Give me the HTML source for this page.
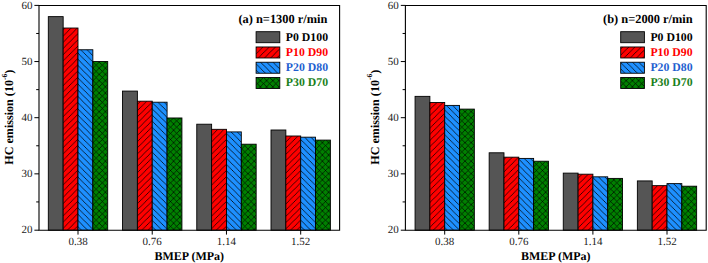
<!DOCTYPE html><html><head><meta charset="utf-8"><style>
html,body{margin:0;padding:0;background:#fff;width:708px;height:263px;overflow:hidden}
svg{display:block}text{font-family:"Liberation Serif",serif;text-rendering:geometricPrecision}
</style></head><body>
<svg width="708" height="263" viewBox="0 0 708 263">
<defs>
<pattern id="hr" patternUnits="userSpaceOnUse" width="6.2" height="6.2"><rect width="6.2" height="6.2" fill="#ff0000"/><path d="M-1 1L1 -1M0 6.2L6.2 0M5.2 7.2L7.2 5.2" stroke="#000" stroke-width="0.75"/></pattern>
<pattern id="hb" patternUnits="userSpaceOnUse" width="6.2" height="6.2"><rect width="6.2" height="6.2" fill="#1e90ff"/><path d="M-1 5.2L1 7.2M0 0L6.2 6.2M5.2 -1L7.2 1" stroke="#000" stroke-width="0.75"/></pattern>
<pattern id="hg" patternUnits="userSpaceOnUse" width="6.2" height="6.2"><rect width="6.2" height="6.2" fill="#008000"/><path d="M-1 1L1 -1M0 6.2L6.2 0M5.2 7.2L7.2 5.2M-1 5.2L1 7.2M0 0L6.2 6.2M5.2 -1L7.2 1" stroke="#000" stroke-width="0.65"/></pattern>
</defs>
<rect width="708" height="263" fill="#fff"/>
<rect x="48.31" y="16.63" width="14.85" height="213.57" fill="#555555" stroke="#000" stroke-width="0.9"/>
<rect x="63.15" y="28.03" width="14.85" height="202.17" fill="url(#hr)" stroke="#000" stroke-width="0.9"/>
<rect x="78.00" y="49.76" width="14.85" height="180.44" fill="url(#hb)" stroke="#000" stroke-width="0.9"/>
<rect x="92.85" y="61.55" width="14.85" height="168.65" fill="url(#hg)" stroke="#000" stroke-width="0.9"/>
<rect x="122.54" y="91.08" width="14.85" height="139.12" fill="#555555" stroke="#000" stroke-width="0.9"/>
<rect x="137.38" y="101.19" width="14.85" height="129.01" fill="url(#hr)" stroke="#000" stroke-width="0.9"/>
<rect x="152.23" y="102.20" width="14.85" height="128.00" fill="url(#hb)" stroke="#000" stroke-width="0.9"/>
<rect x="167.08" y="117.98" width="14.85" height="112.22" fill="url(#hg)" stroke="#000" stroke-width="0.9"/>
<rect x="196.77" y="124.21" width="14.85" height="105.99" fill="#555555" stroke="#000" stroke-width="0.9"/>
<rect x="211.61" y="129.32" width="14.85" height="100.88" fill="url(#hr)" stroke="#000" stroke-width="0.9"/>
<rect x="226.46" y="131.91" width="14.85" height="98.29" fill="url(#hb)" stroke="#000" stroke-width="0.9"/>
<rect x="241.31" y="144.20" width="14.85" height="86.00" fill="url(#hg)" stroke="#000" stroke-width="0.9"/>
<rect x="271.00" y="130.00" width="14.85" height="100.20" fill="#555555" stroke="#000" stroke-width="0.9"/>
<rect x="285.84" y="136.00" width="14.85" height="94.20" fill="url(#hr)" stroke="#000" stroke-width="0.9"/>
<rect x="300.69" y="137.18" width="14.85" height="93.02" fill="url(#hb)" stroke="#000" stroke-width="0.9"/>
<rect x="315.54" y="140.10" width="14.85" height="90.10" fill="url(#hg)" stroke="#000" stroke-width="0.9"/>
<path d="M39.0 5.5H339.6V230.2H39.0Z" fill="none" stroke="#000" stroke-width="1.1"/>
<text x="32.40" y="233.40" font-size="11" text-anchor="end" fill="#1a1a1a">20</text>
<text x="32.40" y="177.05" font-size="11" text-anchor="end" fill="#1a1a1a">30</text>
<text x="32.40" y="120.90" font-size="11" text-anchor="end" fill="#1a1a1a">40</text>
<text x="32.40" y="64.75" font-size="11" text-anchor="end" fill="#1a1a1a">50</text>
<text x="32.40" y="8.60" font-size="11" text-anchor="end" fill="#1a1a1a">60</text>
<text x="78.00" y="245.3" font-size="11" text-anchor="middle" fill="#1a1a1a">0.38</text>
<text x="152.23" y="245.3" font-size="11" text-anchor="middle" fill="#1a1a1a">0.76</text>
<text x="226.46" y="245.3" font-size="11" text-anchor="middle" fill="#1a1a1a">1.14</text>
<text x="300.69" y="245.3" font-size="11" text-anchor="middle" fill="#1a1a1a">1.52</text>
<path d="M34.40 230.20H39.0M36.20 201.93H39.0M34.40 173.85H39.0M36.20 145.78H39.0M34.40 117.70H39.0M36.20 89.63H39.0M34.40 61.55H39.0M36.20 33.48H39.0M34.40 5.40H39.0M78.00 230.2V234.60M152.23 230.2V234.60M226.46 230.2V234.60M300.69 230.2V234.60" fill="none" stroke="#000" stroke-width="1"/>
<text x="189.30" y="259.7" font-size="12" font-weight="bold" text-anchor="middle">BMEP (MPa)</text>
<text transform="translate(13.00,117.2) rotate(-90)" font-size="12.1" font-weight="bold" text-anchor="middle">HC emission (10<tspan font-size="7.5" dy="-6.5">-6</tspan><tspan dy="6.5">)</tspan></text>
<text x="238.40" y="22.5" font-size="12.4" font-weight="bold">(a) n=1300 r/min</text>
<rect x="256.10" y="31.70" width="23.7" height="11" fill="#555555" stroke="#000" stroke-width="0.9"/>
<text x="285.80" y="40.70" font-size="11.8" font-weight="bold" fill="#000000">P0 D100</text>
<rect x="256.10" y="46.97" width="23.7" height="11" fill="url(#hr)" stroke="#000" stroke-width="0.9"/>
<text x="285.80" y="55.70" font-size="11.8" font-weight="bold" fill="#ff0000">P10 D90</text>
<rect x="256.10" y="62.24" width="23.7" height="11" fill="url(#hb)" stroke="#000" stroke-width="0.9"/>
<text x="285.80" y="70.70" font-size="11.8" font-weight="bold" fill="#1f5fd0">P20 D80</text>
<rect x="256.10" y="77.51" width="23.7" height="11" fill="url(#hg)" stroke="#000" stroke-width="0.9"/>
<text x="285.80" y="85.70" font-size="11.8" font-weight="bold" fill="#1a7f1a">P30 D70</text>
<rect x="415.06" y="96.36" width="14.82" height="133.84" fill="#555555" stroke="#000" stroke-width="0.9"/>
<rect x="429.88" y="102.54" width="14.82" height="127.66" fill="url(#hr)" stroke="#000" stroke-width="0.9"/>
<rect x="444.70" y="105.40" width="14.82" height="124.80" fill="url(#hb)" stroke="#000" stroke-width="0.9"/>
<rect x="459.52" y="109.11" width="14.82" height="121.09" fill="url(#hg)" stroke="#000" stroke-width="0.9"/>
<rect x="489.16" y="152.79" width="14.82" height="77.41" fill="#555555" stroke="#000" stroke-width="0.9"/>
<rect x="503.98" y="157.17" width="14.82" height="73.03" fill="url(#hr)" stroke="#000" stroke-width="0.9"/>
<rect x="518.80" y="158.41" width="14.82" height="71.79" fill="url(#hb)" stroke="#000" stroke-width="0.9"/>
<rect x="533.62" y="161.22" width="14.82" height="68.98" fill="url(#hg)" stroke="#000" stroke-width="0.9"/>
<rect x="563.26" y="173.12" width="14.82" height="57.08" fill="#555555" stroke="#000" stroke-width="0.9"/>
<rect x="578.08" y="174.19" width="14.82" height="56.01" fill="url(#hr)" stroke="#000" stroke-width="0.9"/>
<rect x="592.90" y="176.83" width="14.82" height="53.37" fill="url(#hb)" stroke="#000" stroke-width="0.9"/>
<rect x="607.72" y="178.40" width="14.82" height="51.80" fill="url(#hg)" stroke="#000" stroke-width="0.9"/>
<rect x="637.36" y="180.92" width="14.82" height="49.28" fill="#555555" stroke="#000" stroke-width="0.9"/>
<rect x="652.18" y="185.64" width="14.82" height="44.56" fill="url(#hr)" stroke="#000" stroke-width="0.9"/>
<rect x="667.00" y="183.62" width="14.82" height="46.58" fill="url(#hb)" stroke="#000" stroke-width="0.9"/>
<rect x="681.82" y="186.20" width="14.82" height="44.00" fill="url(#hg)" stroke="#000" stroke-width="0.9"/>
<path d="M405.4 5.5H706.2V230.2H405.4Z" fill="none" stroke="#000" stroke-width="1.1"/>
<text x="398.80" y="233.40" font-size="11" text-anchor="end" fill="#1a1a1a">20</text>
<text x="398.80" y="177.05" font-size="11" text-anchor="end" fill="#1a1a1a">30</text>
<text x="398.80" y="120.90" font-size="11" text-anchor="end" fill="#1a1a1a">40</text>
<text x="398.80" y="64.75" font-size="11" text-anchor="end" fill="#1a1a1a">50</text>
<text x="398.80" y="8.60" font-size="11" text-anchor="end" fill="#1a1a1a">60</text>
<text x="444.70" y="245.3" font-size="11" text-anchor="middle" fill="#1a1a1a">0.38</text>
<text x="518.80" y="245.3" font-size="11" text-anchor="middle" fill="#1a1a1a">0.76</text>
<text x="592.90" y="245.3" font-size="11" text-anchor="middle" fill="#1a1a1a">1.14</text>
<text x="667.00" y="245.3" font-size="11" text-anchor="middle" fill="#1a1a1a">1.52</text>
<path d="M400.80 230.20H405.4M402.60 201.93H405.4M400.80 173.85H405.4M402.60 145.78H405.4M400.80 117.70H405.4M402.60 89.63H405.4M400.80 61.55H405.4M402.60 33.48H405.4M400.80 5.40H405.4M444.70 230.2V234.60M518.80 230.2V234.60M592.90 230.2V234.60M667.00 230.2V234.60" fill="none" stroke="#000" stroke-width="1"/>
<text x="555.80" y="259.7" font-size="12" font-weight="bold" text-anchor="middle">BMEP (MPa)</text>
<text transform="translate(378.90,117.2) rotate(-90)" font-size="12.1" font-weight="bold" text-anchor="middle">HC emission (10<tspan font-size="7.5" dy="-6.5">-6</tspan><tspan dy="6.5">)</tspan></text>
<text x="603.00" y="22.5" font-size="12.4" font-weight="bold">(b) n=2000 r/min</text>
<rect x="620.70" y="31.70" width="23.7" height="11" fill="#555555" stroke="#000" stroke-width="0.9"/>
<text x="650.40" y="40.70" font-size="11.8" font-weight="bold" fill="#000000">P0 D100</text>
<rect x="620.70" y="46.97" width="23.7" height="11" fill="url(#hr)" stroke="#000" stroke-width="0.9"/>
<text x="650.40" y="55.70" font-size="11.8" font-weight="bold" fill="#ff0000">P10 D90</text>
<rect x="620.70" y="62.24" width="23.7" height="11" fill="url(#hb)" stroke="#000" stroke-width="0.9"/>
<text x="650.40" y="70.70" font-size="11.8" font-weight="bold" fill="#1f5fd0">P20 D80</text>
<rect x="620.70" y="77.51" width="23.7" height="11" fill="url(#hg)" stroke="#000" stroke-width="0.9"/>
<text x="650.40" y="85.70" font-size="11.8" font-weight="bold" fill="#1a7f1a">P30 D70</text>
</svg></body></html>
